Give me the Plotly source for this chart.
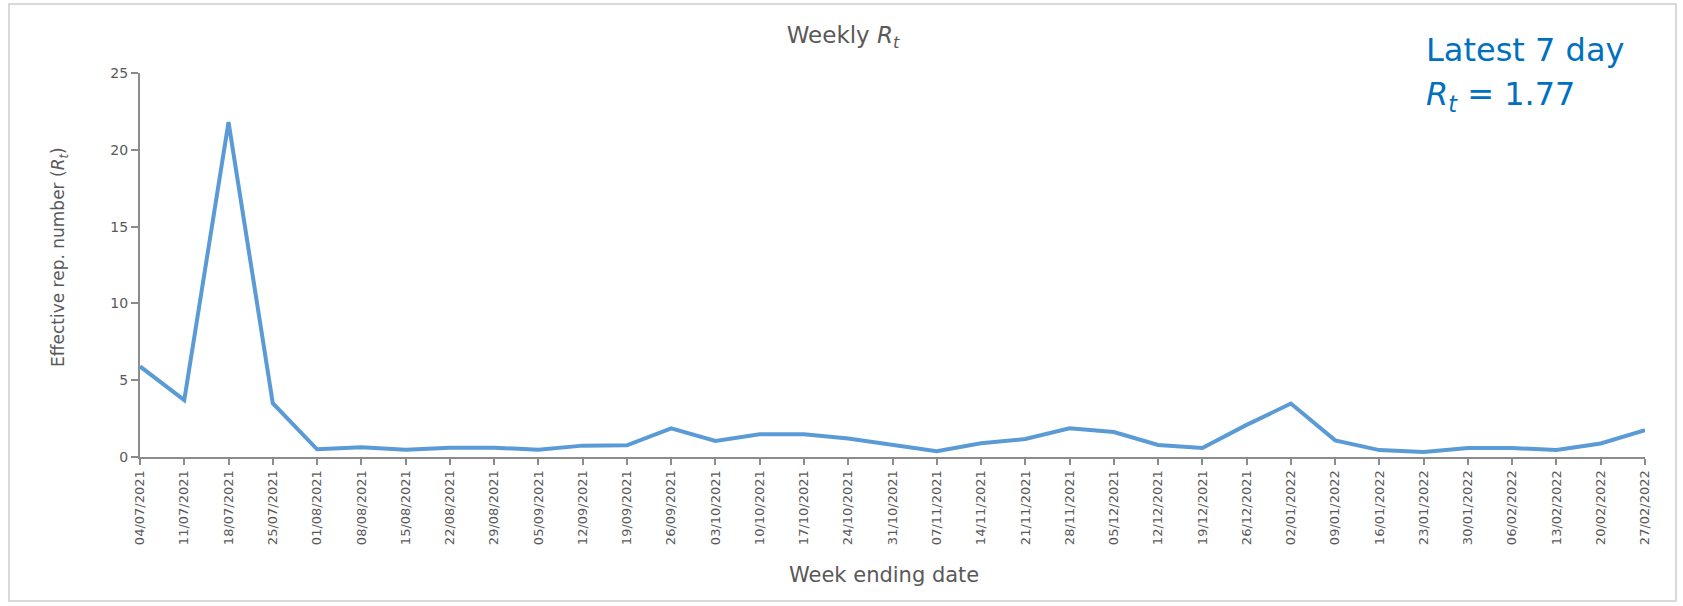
import plotly.graph_objects as go

weeks = ["04/07/2021", "11/07/2021", "18/07/2021", "25/07/2021", "01/08/2021", "08/08/2021",
         "15/08/2021", "22/08/2021", "29/08/2021", "05/09/2021", "12/09/2021", "19/09/2021",
         "26/09/2021", "03/10/2021", "10/10/2021", "17/10/2021", "24/10/2021", "31/10/2021",
         "07/11/2021", "14/11/2021", "21/11/2021", "28/11/2021", "05/12/2021", "12/12/2021",
         "19/12/2021", "26/12/2021", "02/01/2022", "09/01/2022", "16/01/2022", "23/01/2022",
         "30/01/2022", "06/02/2022", "13/02/2022", "20/02/2022", "27/02/2022"]
rt = [5.9, 3.7, 21.8, 3.5, 0.5, 0.63, 0.48, 0.6, 0.6, 0.48, 0.74, 0.76,
      1.87, 1.04, 1.48, 1.48, 1.2, 0.8, 0.37, 0.89, 1.17, 1.87, 1.63, 0.78,
      0.58, 2.09, 3.48, 1.08, 0.45, 0.33, 0.58, 0.58, 0.45, 0.88, 1.75]
y_ticks = [0, 5, 10, 15, 20, 25]

W, H = 1683, 606
L, R, T, B = 140, 38, 73, 149
PW, PH = W - L - R, H - T - B

def px(x):
    return (x - L) / PW

def py(y):
    return (H - B - y) / PH

gray = "#595959"
axis_col = "#8C8C8C"
font = "DejaVu Sans"

fig = go.Figure()
fig.add_trace(go.Scatter(x=weeks, y=rt, mode="lines",
                         line=dict(color="#5B9BD5", width=4),
                         showlegend=False))

fig.update_layout(
    width=W, height=H,
    margin=dict(l=L, r=R, t=T, b=B),
    paper_bgcolor="white", plot_bgcolor="white",
    font=dict(family=font, color=gray),
    title=dict(text="Weekly <i>R<sub>t</sub></i>", x=843 / W, xanchor="center",
               y=1 - 35 / H, yanchor="middle", yref="container",
               font=dict(size=23, color=gray, family=font)),
    xaxis=dict(type="category", range=[0, len(weeks) - 1], showgrid=False,
               showline=True, linecolor=axis_col, linewidth=2,
               ticks="outside", ticklen=6, tickcolor=axis_col, tickwidth=2,
               tickangle=-90, tickfont=dict(size=13, color=gray, family=font),
               zeroline=False),
    yaxis=dict(range=[0, 25], tickvals=y_ticks, showgrid=False,
               showline=True, linecolor=axis_col, linewidth=2,
               ticks="outside", ticklen=7, tickcolor=axis_col, tickwidth=2,
               tickfont=dict(size=14, color=gray, family=font), zeroline=False),
    shapes=[dict(type="rect", xref="paper", yref="paper",
                 x0=px(9), x1=px(1676), y0=py(601), y1=py(4),
                 line=dict(color="#D9D9D9", width=2), layer="below")],
    annotations=[
        dict(text="Effective rep. number (<i>R<sub>t</sub></i>)", xref="paper", yref="paper",
             x=px(59), y=py(257), textangle=-90, showarrow=False,
             xanchor="center", yanchor="middle", font=dict(size=17, color=gray, family=font)),
        dict(text="Week ending date", xref="paper", yref="paper",
             x=px(884), y=py(575), showarrow=False,
             xanchor="center", yanchor="middle", font=dict(size=21, color=gray, family=font)),
        dict(text="Latest 7 day", xref="paper", yref="paper",
             x=px(1424), y=py(50), showarrow=False,
             xanchor="left", yanchor="middle", font=dict(size=32, color="#0070C0", family=font)),
        dict(text="<i>R<sub>t</sub></i> = 1.77", xref="paper", yref="paper",
             x=px(1424), y=py(96), showarrow=False,
             xanchor="left", yanchor="middle", font=dict(size=32, color="#0070C0", family=font)),
    ],
)

fig.write_html("out.html", config={"displayModeBar": False},
               post_script="document.body.style.margin='0';")
